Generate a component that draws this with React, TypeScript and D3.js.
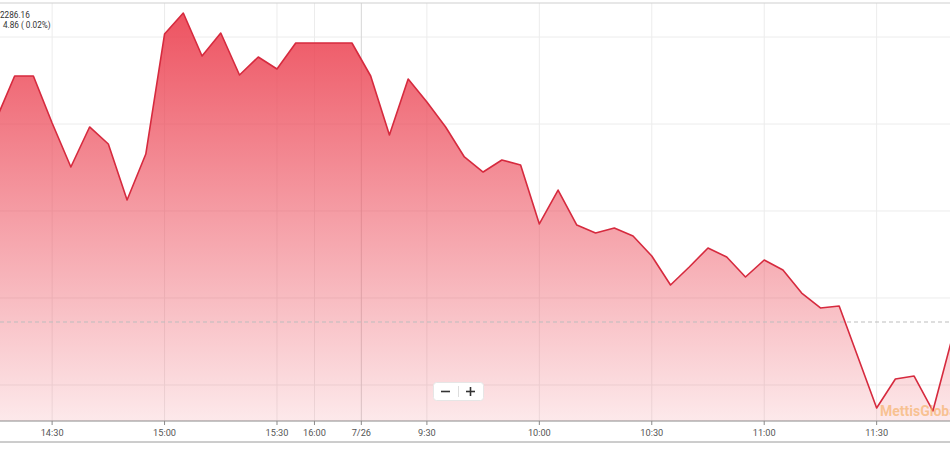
import React, { useMemo } from "react";
import * as d3 from "d3";

// Price series (5-minute points, ordinal index positions)
const prices: number[] = [
  22305.46, 22310.52, 22310.52, 22305.11, 22300.06, 22304.66, 22302.7, 22296.26, 22301.55, 22315.34,
  22317.76, 22312.82, 22315.46, 22310.63, 22312.7, 22311.32, 22314.31, 22314.31, 22314.31, 22314.31,
  22310.52, 22303.74, 22310.17, 22307.53, 22304.66, 22301.21, 22299.48, 22300.86, 22300.29, 22293.51,
  22297.41, 22293.39, 22292.47, 22293.05, 22292.13, 22289.83, 22286.49, 22288.56, 22290.75, 22289.71,
  22287.41, 22289.37, 22288.22, 22285.57, 22283.85, 22284.08, 22278.22, 22272.36, 22275.69, 22276.03,
  22272.01, 22280.17,
];

const tickIndex: number[] = [3, 9, 15, 17, 19.5, 23, 29, 35, 41, 47];
const tickLabels: string[] = ["14:30", "15:00", "15:30", "16:00", "7/26", "9:30", "10:00", "10:30", "11:00", "11:30"];
const daySeparatorLabel = "7/26";

const gridValues: number[] = [22275, 22285, 22295, 22305, 22315];
const prevClose = 22282.24;
const headerPrice = "2286.16";
const headerChange = "4.86 ( 0.02%)";
const watermark = "MettisGlobal";

const W = 950;
const H = 450;
const AXIS_Y = 421;
const TOP_Y = 3;
const FONT = "Roboto, 'Noto Sans', sans-serif";

export default function App() {
  const x = useMemo(() => d3.scaleLinear().domain([0, prices.length - 1]).range([-4.1, 951.6]), []);
  const y = useMemo(() => d3.scaleLinear().domain([22270.86, 22318.91]).range([AXIS_Y, TOP_Y]), []);

  const line = d3
    .line<number>()
    .x((_, i) => x(i))
    .y((d) => y(d));
  const area = d3
    .area<number>()
    .x((_, i) => x(i))
    .y0(AXIS_Y)
    .y1((d) => y(d));

  return (
    <div style={{ position: "fixed", left: 0, top: 0, width: W, height: H, background: "#fff" }}>
      <svg width={W} height={H} style={{ display: "block" }}>
        <defs>
          <linearGradient id="fillGrad" gradientUnits="userSpaceOnUse" x1={0} y1={13} x2={0} y2={AXIS_Y}>
            <stop offset="0%" stopColor="rgb(236,70,85)" stopOpacity={0.93} />
            <stop offset="100%" stopColor="rgb(236,70,85)" stopOpacity={0.12} />
          </linearGradient>
          <clipPath id="plotClip">
            <rect x={0} y={TOP_Y} width={W} height={AXIS_Y - TOP_Y} />
          </clipPath>
        </defs>

        <rect x={0} y={0} width={W} height={H} fill="#fff" />

        {/* horizontal grid */}
        {gridValues.map((v) => (
          <line key={v} x1={0} x2={W} y1={y(v)} y2={y(v)} stroke="#ececec" strokeWidth={1} />
        ))}
        {/* vertical grid */}
        {tickIndex.map((t, i) => (
          <line
            key={"vg" + i}
            x1={x(t)}
            x2={x(t)}
            y1={TOP_Y}
            y2={AXIS_Y}
            stroke={tickLabels[i] === daySeparatorLabel ? "#d6d6d6" : "#ececec"}
            strokeWidth={1}
          />
        ))}

        <g clipPath="url(#plotClip)">
          <path d={area(prices) || ""} fill="url(#fillGrad)" />
          <path d={line(prices) || ""} fill="none" stroke="#d62a3e" strokeWidth={1.6} strokeLinejoin="round" />
        </g>

        {/* previous close dashed line */}
        <line x1={0} x2={W} y1={y(prevClose)} y2={y(prevClose)} stroke="#bdbdbd" strokeWidth={1} strokeDasharray="4,3" />

        {/* top border */}
        <line x1={0} x2={W} y1={TOP_Y} y2={TOP_Y} stroke="#cfcfcf" strokeWidth={1} />

        {/* header */}
        <text x={0} y={18} fontFamily={FONT} fontSize={8.2} fill="#333">{headerPrice}</text>
        <text x={3} y={28} fontFamily={FONT} fontSize={8.2} fill="#333">{headerChange}</text>

        {/* watermark */}
        <text x={880} y={416} fontFamily={FONT} fontSize={14} fontWeight={700} fill="#f6b26b" fillOpacity={0.7}>
          {watermark}
        </text>

        {/* zoom buttons */}
        <g>
          <rect x={433.5} y={382.5} width={50} height={18} rx={3} fill="#fff" stroke="#e6e6e6" />
          <line x1={458.5} x2={458.5} y1={386} y2={397} stroke="#ddd" />
          <line x1={441} x2={450} y1={391.5} y2={391.5} stroke="#333" strokeWidth={1.6} />
          <line x1={466} x2={475} y1={391.5} y2={391.5} stroke="#333" strokeWidth={1.6} />
          <line x1={470.5} x2={470.5} y1={387} y2={396} stroke="#333" strokeWidth={1.6} />
        </g>

        {/* x axis */}
        <line x1={0} x2={W} y1={AXIS_Y} y2={AXIS_Y} stroke="#8a8a8a" strokeWidth={1} />
        {tickIndex.map((t, i) => (
          <g key={"t" + i} transform={`translate(${x(t)},${AXIS_Y})`}>
            <line y1={0} y2={4} stroke="#8a8a8a" />
            <text y={15} textAnchor="middle" fontFamily={FONT} fontSize={9.2} fill="#555">
              {tickLabels[i]}
            </text>
          </g>
        ))}

        {/* bottom border */}
        <line x1={0} x2={W} y1={442} y2={442} stroke="#9a9a9a" strokeWidth={1} />
      </svg>
    </div>
  );
}
